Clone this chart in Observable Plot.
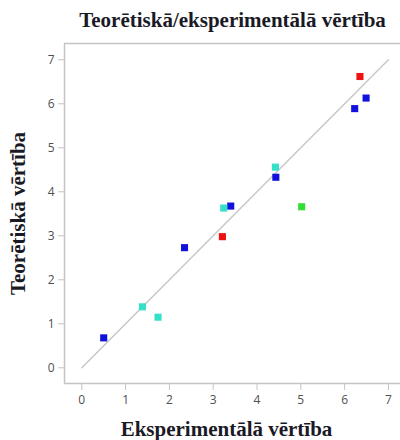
<!DOCTYPE html>
<html>
<head>
<meta charset="utf-8">
<script src="https://cdn.jsdelivr.net/npm/d3@7"></script>
<script src="https://cdn.jsdelivr.net/npm/@observablehq/plot@0.6"></script>
<style>
  html, body { margin: 0; padding: 0; background: #fff; }
  #chart svg { display: block; }
</style>
</head>
<body>
<div id="chart"></div>
<script>
// Experimental vs. theoretical values, one square per sample
const experimental = [6.35, 6.49, 6.23, 4.42, 4.43, 3.40, 3.24, 5.02, 3.21, 2.345, 1.385, 1.74, 0.50];
const theoretical  = [6.62, 6.13, 5.89, 4.56, 4.33, 3.675, 3.63, 3.66, 2.98, 2.73, 1.386, 1.15, 0.68];
const groups       = ["A", "B", "B", "C", "B", "B", "C", "D", "A", "B", "C", "C", "B"];
const groupNames   = ["A", "B", "C", "D"];
const groupColors  = ["#ee1111", "#1111dd", "#33e0c8", "#33dd33"];
const tickValues   = [0, 1, 2, 3, 4, 5, 6, 7];
const identity     = [0, 7];

const title  = "Teorētiskā/eksperimentālā vērtība";
const xTitle = "Eksperimentālā vērtība";
const yTitle = "Teorētiskā vērtība";

const points = experimental.map((x, i) => ({x, y: theoretical[i], g: groups[i]}));
const xDomain = [-0.395, 7.276];
const yDomain = [-0.357, 7.37];

const serif = "'Liberation Serif', 'Times New Roman', serif";
const axisGray = "#c4c4c4";
const labelStyle = {fontFamily: serif, fontWeight: "bold", fontSize: 21, fill: "#1a1a26", lineAnchor: "middle", textAnchor: "middle"};

const chart = Plot.plot({
  width: 400,
  height: 440,
  marginLeft: 64,
  marginRight: 0,
  marginTop: 43,
  marginBottom: 57,
  style: {fontFamily: "'Open Sans', sans-serif", fontSize: "12px", color: "#555", background: "#fff"},
  x: {domain: xDomain, label: null},
  y: {domain: yDomain, label: null},
  color: {domain: groupNames, range: groupColors},
  marks: [
    Plot.ruleX([xDomain[0]], {stroke: axisGray, strokeWidth: 1.5}),
    Plot.ruleY([yDomain[0]], {stroke: axisGray, strokeWidth: 1.5}),
    Plot.ruleY([yDomain[1]], {stroke: axisGray, strokeWidth: 1.5}),
    Plot.axisX({ticks: tickValues, tickSize: 7, tickPadding: 5, stroke: axisGray, fill: "#505050", label: null}),
    Plot.axisY({ticks: tickValues, tickSize: 6, tickPadding: 4, stroke: axisGray, fill: "#505050", label: null}),
    Plot.line(identity.map(v => ({x: v, y: v})), {x: "x", y: "y", stroke: "#c8c8c8", strokeWidth: 1.5}),
    Plot.dot(points, {x: "x", y: "y", fill: "g", symbol: "square", r: 4}),
    Plot.text([title], {frameAnchor: "top", dy: -23, ...labelStyle}),
    Plot.text([xTitle], {frameAnchor: "bottom", dy: 46, dx: -6, ...labelStyle}),
    Plot.text([yTitle], {frameAnchor: "left", dx: -46, rotate: -90, ...labelStyle})
  ]
});
document.getElementById("chart").append(chart);
</script>
</body>
</html>
